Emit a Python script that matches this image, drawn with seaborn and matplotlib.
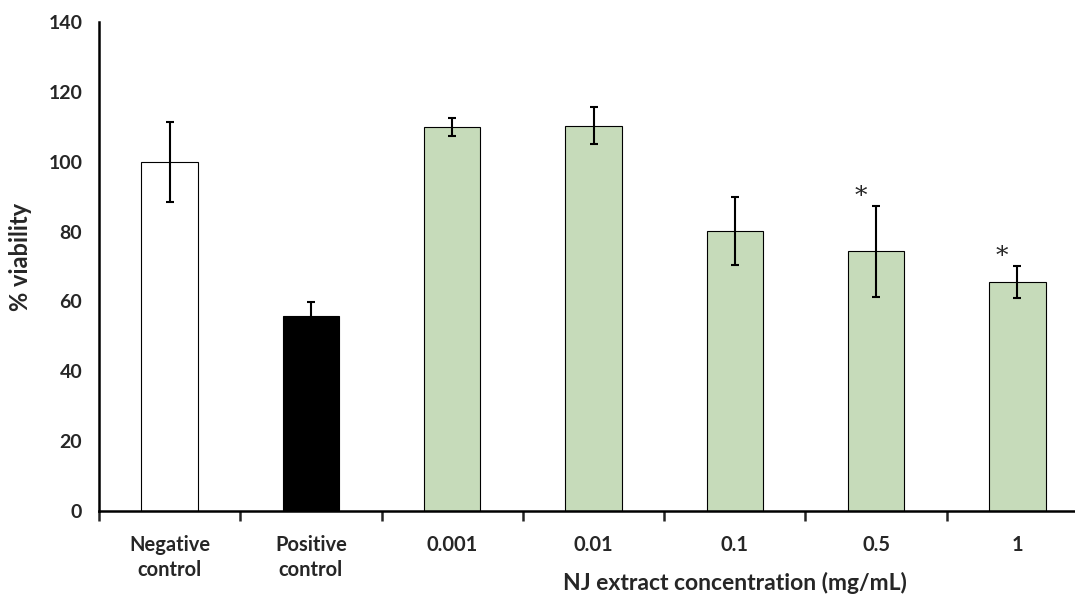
import seaborn as sns
import pandas as pd
import numpy as np
import matplotlib.pyplot as plt
from matplotlib.ticker import FixedLocator

# Data
groups = ['Negative\ncontrol', 'Positive\ncontrol', '0.001', '0.01', '0.1', '0.5', '1']
viability = [100.0, 55.9, 110.0, 110.3, 80.2, 74.3, 65.5]
error = [11.4, 4.0, 2.6, 5.3, 9.7, 13.0, 4.5]
significant = [False, False, False, False, False, True, True]
bar_colors = ['white', 'black', '#c5e0b4', '#c5e0b4', '#c5e0b4', '#c5e0b4', '#c5e0b4']

data = pd.DataFrame({'group': groups, 'viability': viability, 'error': error})

sns.set_style('white')
plt.rcParams['font.family'] = ['Lato', 'DejaVu Sans']

fig = plt.figure(figsize=(10.75, 5.94), dpi=100)
ax = fig.add_axes([0.0921, 0.1397, 0.92, 0.8233])

sns.barplot(data=data, x='group', y='viability', hue='group', palette=bar_colors,
            width=0.4, edgecolor='black', linewidth=0.8, legend=False, ax=ax)
ax.errorbar(data['group'], data['viability'], yerr=data['error'], fmt='none',
            ecolor='black', elinewidth=1.5, capsize=3, capthick=1.5)

# asterisks for significant groups
for i, sig in enumerate(significant):
    if sig:
        ax.text(i - 0.11, viability[i] + error[i] - 0.5, '*', family='DejaVu Serif',
                fontsize=18, ha='center', va='bottom')

ax.set_xlim(-0.5, len(groups) - 0.5)
ax.set_ylim(0, 140)
ax.set_yticks(np.arange(0, 141, 20))

sns.despine(ax=ax)
for side in ['left', 'bottom']:
    ax.spines[side].set_linewidth(1.8)
    ax.spines[side].set_color('black')

ax.tick_params(axis='y', direction='out', length=7, width=1.8, labelsize=14, pad=5)
ax.tick_params(axis='x', which='major', length=0, labelsize=14.5, pad=17)
ax.xaxis.set_minor_locator(FixedLocator(np.arange(-0.5, len(groups), 1.0)))
ax.tick_params(axis='x', which='minor', direction='out', length=7, width=1.8, bottom=True)
for lab in ax.get_xticklabels() + ax.get_yticklabels():
    lab.set_fontweight('bold')
    lab.set_linespacing(1.35)

ax.set_ylabel('% viability', fontsize=17, fontweight='bold')
ax.yaxis.set_label_coords(-0.068, 0.52)
ax.set_xlabel('NJ extract concentration (mg/mL)', fontsize=16.5, fontweight='bold')
ax.xaxis.set_label_coords(4.5 / 7, -0.125)

fig.savefig('out.png', dpi=100)
